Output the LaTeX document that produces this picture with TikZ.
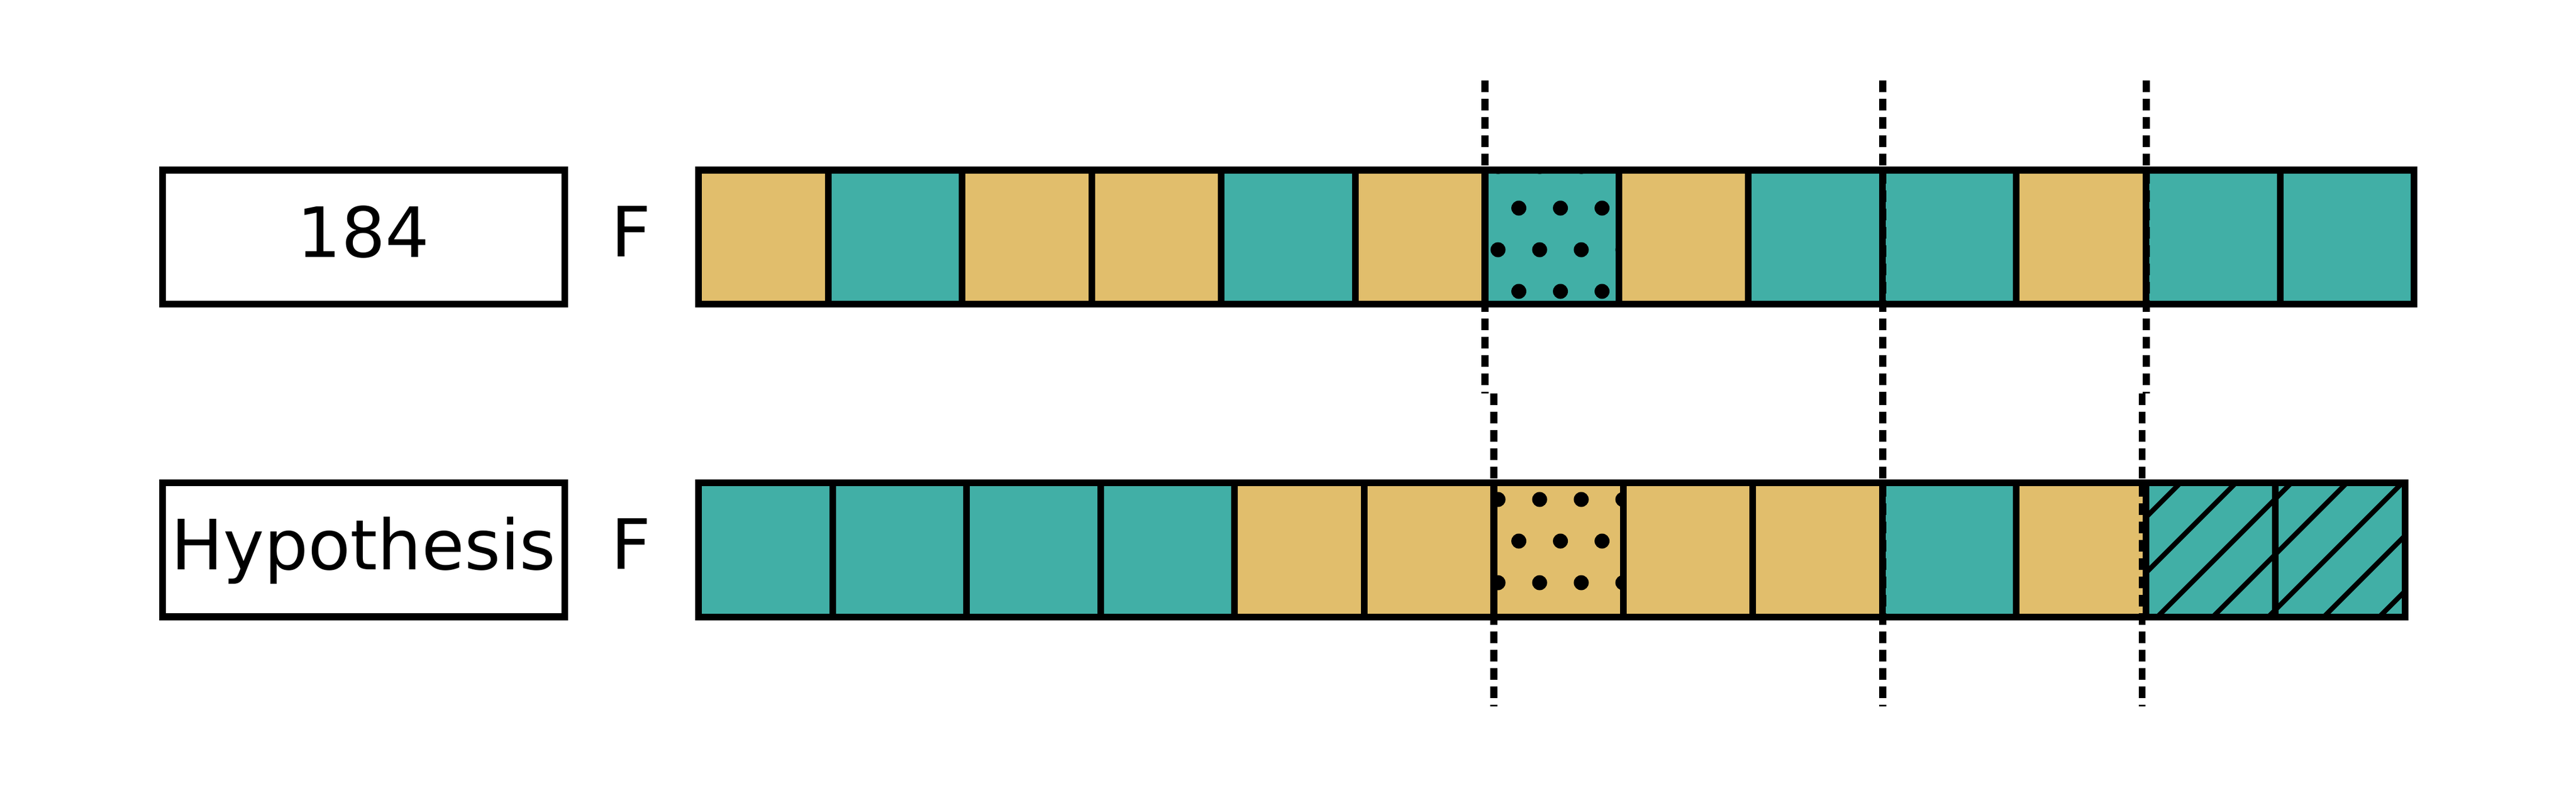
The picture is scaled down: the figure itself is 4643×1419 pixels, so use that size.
\documentclass[tikz,border=0pt]{standalone}
\usepackage{fontspec}
\setmainfont{DejaVu Sans}
\definecolor{cteal}{RGB}{65,175,166}
\definecolor{cyel}{RGB}{225,190,108}
\begin{document}
\begin{tikzpicture}[x=0.1pt,y=-0.1pt,line join=miter,
  edge/.style={draw=black,line width=1.24pt},
  guide/.style={draw=black,line width=1.24pt,dash pattern=on 2.1pt off 1.2pt},
  hatchline/.style={draw=black,line width=0.9pt},
  labelbox/.style={draw=black,line width=1.24pt,fill=white,minimum width=72.5pt,minimum height=24.15pt,inner sep=0pt,outer sep=0pt,anchor=north west},
  lbl/.style={anchor=base,inner sep=0pt,font=\fontsize{12.5}{15}\selectfont}]
\useasboundingbox (0,0) rectangle (4643,1419);
\fill[white] (0,0) rectangle (4643,1419);

% label boxes
\node[labelbox] (box184) at (293,306.5) {};
\node[labelbox] (boxhyp) at (293,870) {};
\node[lbl] (t184) at (655,463) {184};
\node[lbl] (thyp) at (655,1026) {Hypothesis};
\node[lbl] (f1) at (1137.5,462.5) {F};
\node[lbl] (f2) at (1137.5,1025.5) {F};

% top row fills
\foreach \xa/\xb/\cc in {1259/1493/cyel,1493/1734/cteal,1734/1968/cyel,1968/2201/cyel,2201/2443/cteal,2443/2676.5/cyel,2676.5/2918/cteal,2918/3151/cyel,3151/3393/cteal,3393/3634/cteal,3634/3868/cyel,3868/4110/cteal,4110/4351/cteal}
  \path[fill=\cc] (\xa,306.5) rectangle (\xb,548);
% bottom row fills
\foreach \xa/\xb/\cc in {1259/1501/cteal,1501/1742/cteal,1742/1984/cteal,1984/2225/cteal,2225/2459/cyel,2459/2692.5/cyel,2692.5/2926/cyel,2926/3159/cyel,3159/3393/cyel,3393/3634/cteal,3634/3868/cyel,3868/4101/cteal,4101/4335/cteal}
  \path[fill=\cc] (\xa,870) rectangle (\xb,1112);

% dotted pattern, top
\begin{scope}
  \clip (2676.5,306.5) rectangle (2918,548);
  \foreach \k in {0,...,4} {
    \foreach \j in {-1,...,4} {
      \pgfmathsetmacro\dx{2700+75*\j+37.5*mod(\k,2)}
      \pgfmathsetmacro\dy{300+75*\k}
      \fill (\dx,\dy) circle[radius=13.5];
    }
  }
\end{scope}
% dotted pattern, bottom
\begin{scope}
  \clip (2692.5,870) rectangle (2926,1112);
  \foreach \k in {7,...,11} {
    \foreach \j in {-1,...,4} {
      \pgfmathsetmacro\dx{2700+75*\j+37.5*mod(\k,2)}
      \pgfmathsetmacro\dy{300+75*\k}
      \fill (\dx,\dy) circle[radius=13.5];
    }
  }
\end{scope}
% hatch pattern
\begin{scope}
  \clip (3868,870) rectangle (4335,1112);
  \foreach \n in {47,...,56}
    \draw[hatchline] ({100*\n-1200},1200) -- ({100*\n-800},800);
\end{scope}

% edges
\foreach \xa/\xb in {1259/1493,1493/1734,1734/1968,1968/2201,2201/2443,2443/2676.5,2676.5/2918,2918/3151,3151/3393,3393/3634,3634/3868,3868/4110,4110/4351}
  \draw[edge] (\xa,306.5) rectangle (\xb,548);
\foreach \xa/\xb in {1259/1501,1501/1742,1742/1984,1984/2225,2225/2459,2459/2692.5,2692.5/2926,2926/3159,3159/3393,3393/3634,3634/3868,3868/4101,4101/4335}
  \draw[edge] (\xa,870) rectangle (\xb,1112);

% guide lines
\coordinate (g1a) at (2676.5,145);
\coordinate (g1b) at (2676.5,709);
\coordinate (g1c) at (2692.5,709);
\coordinate (g1d) at (2692.5,1273);
\coordinate (g2a) at (3393.5,145);
\coordinate (g2b) at (3393.5,709);
\coordinate (g2c) at (3393.5,709);
\coordinate (g2d) at (3393.5,1273);
\coordinate (g3a) at (3868.5,145);
\coordinate (g3b) at (3868.5,709);
\coordinate (g3c) at (3861,709);
\coordinate (g3d) at (3861,1273);
\draw[guide] (g1a) -- (g1b);
\draw[guide] (g1c) -- (g1d);
\draw[guide] (g2a) -- (g2b);
\draw[guide] (g2c) -- (g2d);
\draw[guide] (g3a) -- (g3b);
\draw[guide] (g3c) -- (g3d);
\end{tikzpicture}
\end{document}
